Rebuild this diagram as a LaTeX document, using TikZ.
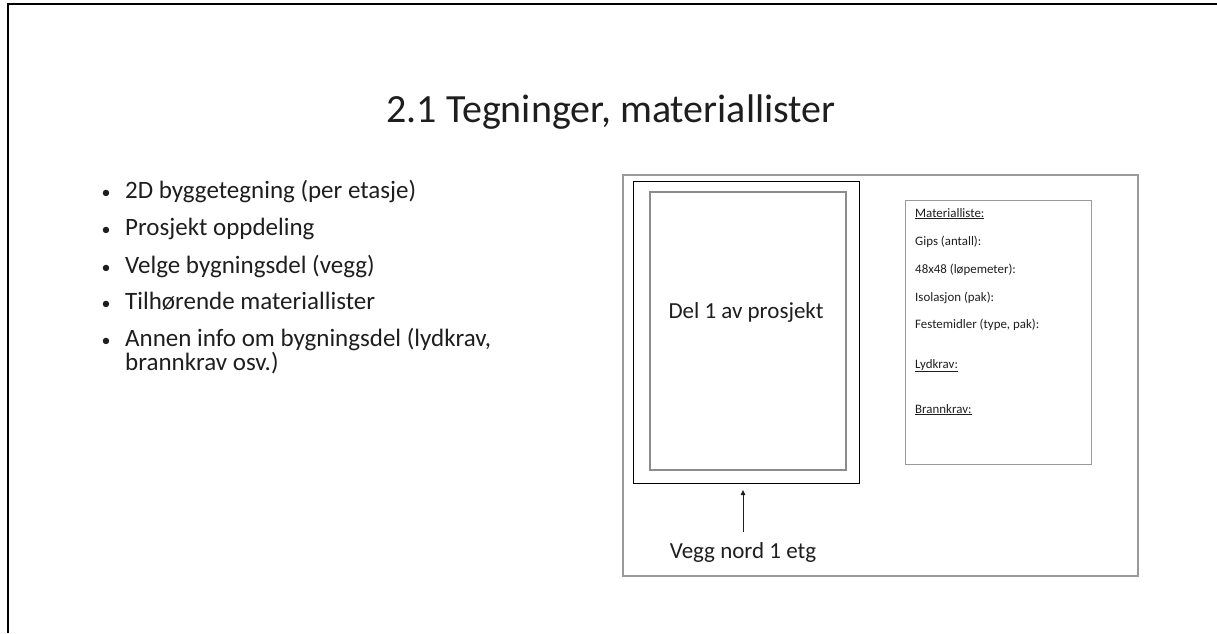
\documentclass[tikz,border=0pt]{standalone}
\usepackage{fontspec}
\setmainfont{Carlito}
\usetikzlibrary{arrows.meta}
\definecolor{txt}{HTML}{1E1E1E}
\definecolor{boxgray}{HTML}{9A9A9A}
\definecolor{wallgray}{HTML}{8C8C8C}
\begin{document}
\begin{tikzpicture}[x=1pt,y=-1pt,
  title/.style={anchor=base, inner sep=0pt, text=txt, font=\fontsize{40}{48}\selectfont},
  bullettext/.style={anchor=base west, inner sep=0pt, text=txt, font=\fontsize{25}{30}\selectfont},
  bulletdot/.style={anchor=base, inner sep=0pt, text=txt, font=\fontsize{18}{22}\selectfont},
  listtext/.style={anchor=base west, inner sep=0pt, text=txt, font=\fontsize{12.9}{15}\selectfont},
  label/.style={anchor=base, inner sep=0pt, text=txt, font=\fontsize{23}{28}\selectfont},
  thinbox/.style={draw=boxgray, line width=1.2pt},
]
\useasboundingbox (0,0) rectangle (1217,633);

% slide frame, cut at the right and bottom
\draw[line width=2pt, black] (8,633) -- (8,4) -- (1217,4);

% title
\node[title] (ttl) at (611,122) {2.1 Tegninger, materiallister};

% bullet list
\node[bulletdot] (d1) at (106,198) {•};
\node[bullettext] (b1) at (125,198) {2D byggetegning (per etasje)};
\node[bulletdot] (d2) at (106,235) {•};
\node[bullettext] (b2) at (125,235) {Prosjekt oppdeling};
\node[bulletdot] (d3) at (106,273) {•};
\node[bullettext] (b3) at (125,273) {Velge bygningsdel (vegg)};
\node[bulletdot] (d4) at (106,309) {•};
\node[bullettext] (b4) at (125,309) {Tilhørende materiallister};
\node[bulletdot] (d5) at (106,346) {•};
\node[bullettext] (b5) at (125,346) {Annen info om bygningsdel (lydkrav,};
\node[bullettext] (b6) at (125,370) {brannkrav osv.)};

% drawing sheet
\draw[thinbox] (623,175) rectangle (1138,576);
\node[draw=black, line width=1.3pt, minimum width=226pt, minimum height=302pt,
      inner sep=0pt, anchor=north west] (floor) at (633,181) {};
\node[draw=wallgray, line width=2.2pt, minimum width=196pt, minimum height=278pt,
      inner sep=0pt, anchor=north west] (wall) at (649,191) {};
\node[label] (del) at (746,318) {Del 1 av prosjekt};

% caption and pointer
\node[label] (vegg) at (743,558) {Vegg nord 1 etg};
\coordinate (tail) at (743,532);
\coordinate (tip) at (743,490);
\draw[line width=0.8pt, txt, -{Triangle[length=5pt,width=4.5pt]}] (tail) -- (tip);

% material list
\node[draw=boxgray, line width=1.2pt, minimum width=186pt, minimum height=264pt,
      inner sep=0pt, anchor=north west] (mat) at (905,200) {};
\node[listtext] (m1) at (915,217) {\underline{Materialliste:}};
\node[listtext] (m2) at (915,245) {Gips (antall):};
\node[listtext] (m3) at (915,273) {48x48 (løpemeter):};
\node[listtext] (m4) at (915,301) {Isolasjon (pak):};
\node[listtext] (m5) at (915,328) {Festemidler (type, pak):};
\node[listtext] (m6) at (915,368) {\underline{Lydkrav:}};
\node[listtext] (m7) at (915,413) {\underline{Brannkrav:}};
\end{tikzpicture}
\end{document}
